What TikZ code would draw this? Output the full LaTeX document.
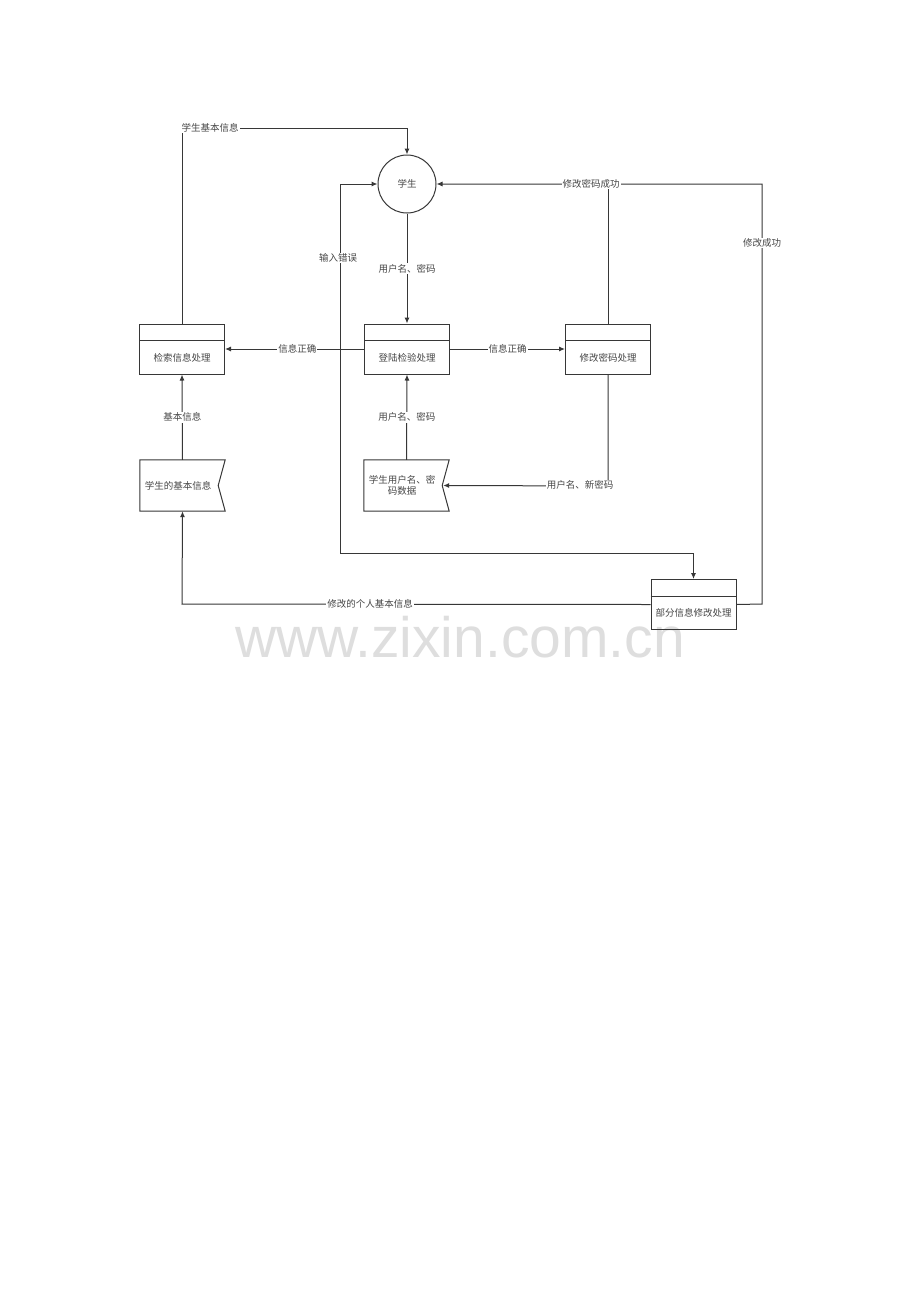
\documentclass[tikz,border=0pt]{standalone}
\usepackage{fontspec}
\newfontfamily\cjk{Noto Sans CJK SC}
\newfontfamily\wmfont{Liberation Sans}
\usetikzlibrary{arrows.meta,calc}
\definecolor{ln}{RGB}{55,55,55}
\definecolor{tx}{RGB}{70,70,70}
\definecolor{wm}{RGB}{222,222,222}
\tikzset{
  every node/.style={font=\cjk\fontsize{9.5}{11.5}\selectfont, text=tx},
  proc/.style={draw=ln, line width=1pt, minimum width=85pt, minimum height=50pt, inner sep=0pt},
  store/.style={minimum width=85pt, minimum height=51pt, inner sep=0pt},
  ent/.style={circle, draw=ln, line width=1pt, minimum size=58pt, inner sep=0pt},
  flow/.style={draw=ln, line width=1pt},
  arr/.style={flow, -{Latex[length=6pt,width=5pt]}},
  lab/.style={fill=white, inner sep=1pt},
}
\begin{document}
\begin{tikzpicture}[x=1pt,y=-1pt]
\useasboundingbox (0,0) rectangle (920,1302);
\fill[white] (0,0) rectangle (920,1302);
% watermark
\node[font=\wmfont\fontsize{57}{60}\selectfont, text=wm] (wmk) at (460,637) {www.zixin.com.cn};

% nodes
\node[ent] (student) at (407,184) {学生};
\node[proc] (jiansuo) at (182,349) {};
\node[proc] (denglu) at (407,349) {};
\node[proc] (xiugai) at (608,349) {};
\node[proc] (bufen) at (693.5,604.5) {};
\foreach \n/\t in {jiansuo/检索信息处理, denglu/登陆检验处理, xiugai/修改密码处理, bufen/部分信息修改处理}{
  \draw[flow] ([yshift=-17pt]\n.north west) -- ([yshift=-17pt]\n.north east);
  \node (\n-t) at ([yshift=-8.5pt]\n.center) {\t};
}
\node[store] (ds1) at (182.5,485.5) {};
\node[store] (ds2) at (406.5,485.5) {};
\foreach \n in {ds1,ds2}{
  \draw[flow] (\n.north west) -- (\n.north east) -- ([xshift=-7pt]\n.east) -- (\n.south east) -- (\n.south west) -- cycle;
}
\node at (178,485.5) {学生的基本信息};
\node[align=center] at (402,485.5) {学生用户名、密\\码数据};

% coordinates
\coordinate (tl) at (182,128);
\coordinate (tr) at (407,128);
\coordinate (errx) at (340,349);
\coordinate (errtop) at (340,184);
\coordinate (errbot) at (340,553);
\coordinate (bufentop) at (693.5,553);
\coordinate (pwtop) at (608,184);
\coordinate (rtop) at (762,184);
\coordinate (rbot) at (762,604);
\coordinate (pwcorner) at (608,486);
\coordinate (lbot) at (182,604);

% connectors
\draw[arr] (jiansuo.north) -- (tl) -- (tr) -- (student.north);
\node[lab] at (210,128) {学生基本信息};

\draw[arr] (student.south) -- node[lab, pos=0.5] {用户名、密码} (denglu.north);
\draw[arr] (denglu.west) -- node[lab, pos=0.48] {信息正确} (jiansuo.east);
\draw[arr] (denglu.east) -- node[lab, pos=0.5] {信息正确} (xiugai.west);
\draw[arr] (ds2.north) -- node[lab, pos=0.5] {用户名、密码} (denglu.south);
\draw[arr] (ds1.north) -- node[lab, pos=0.5] {基本信息} (jiansuo.south);

\draw[arr] (denglu.west) -- (errx) -- (errtop) -- (student.west);
\node[lab] at (338,258) {输入错误};
\draw[arr] (errx) -- (errbot) -- (bufentop) -- (bufen.north);

\draw[arr] (bufen.east) -- (rbot) -- (rtop) -- (student.east);
\draw[flow] (xiugai.north) -- (pwtop);
\node[lab] at (591,184) {修改密码成功};
\node[lab] at (762,243) {修改成功};

\draw[arr] (xiugai.south) -- (pwcorner) -- ([xshift=-6pt]ds2.east);
\node[lab] at (580,485) {用户名、新密码};

\draw[arr] (bufen.west) -- (lbot) -- (ds1.south);
\node[lab] at (370,604) {修改的个人基本信息};
\end{tikzpicture}
\end{document}
